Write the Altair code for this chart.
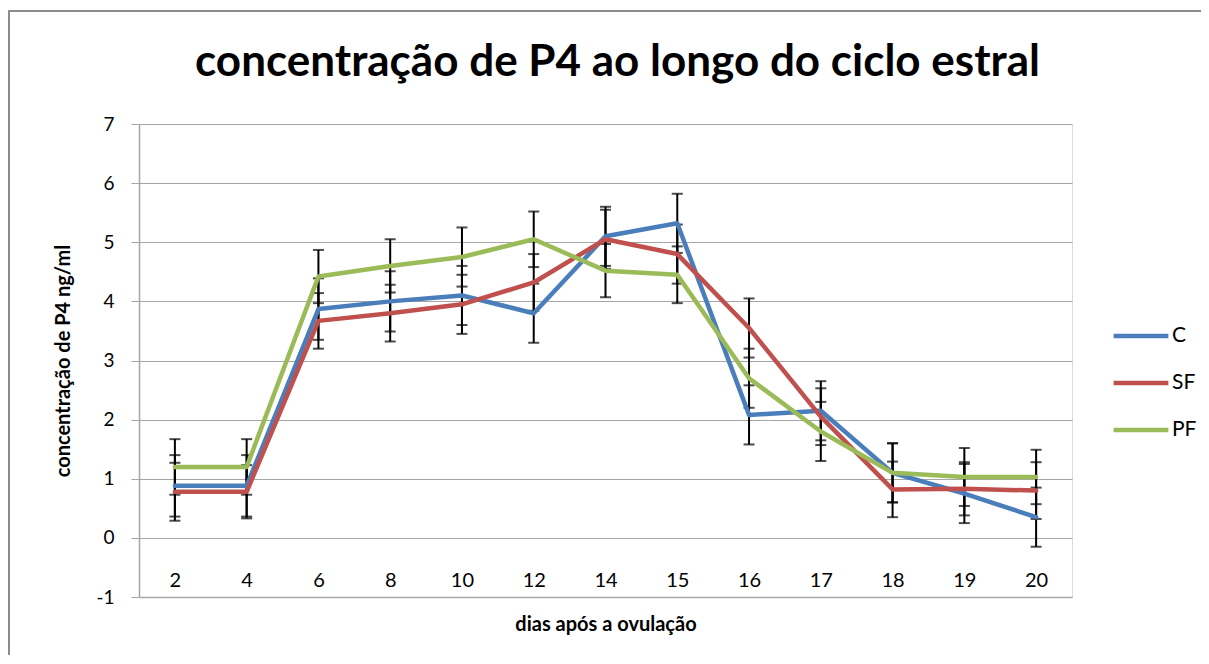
import altair as alt
import pandas as pd

days = ["2", "4", "6", "8", "10", "12", "14", "15", "16", "17", "18", "19", "20"]
series_names = ["C", "SF", "PF"]
colors = ["#4A7EBB", "#C0504D", "#9BBB59"]

C_vals = [0.88, 0.88, 3.87, 4.00, 4.10, 3.80, 5.10, 5.32, 2.08, 2.15, 1.10, 0.75, 0.35]
C_err = [0.52, 0.52, 0.52, 0.51, 0.50, 0.50, 0.50, 0.50, 0.50, 0.50, 0.50, 0.50, 0.50]
SF_vals = [0.78, 0.78, 3.67, 3.80, 3.95, 4.32, 5.05, 4.80, 3.55, 2.05, 0.82, 0.83, 0.80]
SF_err = [0.49, 0.45, 0.47, 0.48, 0.50, 0.48, 0.50, 0.50, 0.50, 0.48, 0.47, 0.45, 0.48]
PF_vals = [1.20, 1.20, 4.42, 4.60, 4.75, 5.05, 4.52, 4.45, 2.70, 1.80, 1.10, 1.03, 1.03]
PF_err = [0.47, 0.47, 0.45, 0.45, 0.50, 0.47, 0.45, 0.48, 0.50, 0.50, 0.50, 0.49, 0.46]

y_ticks = [-1, 0, 1, 2, 3, 4, 5, 6, 7]

rows = []
for name, vals, errs in [("C", C_vals, C_err), ("SF", SF_vals, SF_err), ("PF", PF_vals, PF_err)]:
    for i, (d, v, e) in enumerate(zip(days, vals, errs)):
        rows.append({"day": d, "series": name, "value": v, "lo": v - e, "hi": v + e,
                     "order": series_names.index(name)})
df = pd.DataFrame(rows)

FONT = "Lato"

x_enc = alt.X("day:N", sort=days,
              scale=alt.Scale(type="point", padding=0.5),
              axis=alt.Axis(title="dias após a ovulação", labelAngle=0, ticks=False,
                            domainColor="#a6a6a6", domainWidth=1.5,
                            labelFontSize=20, labelFont=FONT, labelColor="#000000",
                            labelPadding=-27, labelBaseline="top",
                            titleFontSize=20, titleFont=FONT, titleFontWeight="bold",
                            titleColor="#000000", titleY=33, titleBaseline="alphabetic",
                            grid=False))
y_scale = alt.Scale(domain=[-1, 7], nice=False, zero=False)
y_axis = alt.Axis(title="concentração de P4 ng/ml", values=y_ticks,
                  labelExpr="datum.value < 0 ? '-' + abs(datum.value) : '' + datum.value",
                  tickSize=8, tickColor="#a6a6a6", domainColor="#a6a6a6", domainWidth=1.5,
                  gridColor="#a6a6a6", gridWidth=1.2,
                  labelFontSize=19, labelFont=FONT, labelColor="#000000", labelPadding=17,
                  titleFontSize=20, titleFont=FONT, titleFontWeight="bold",
                  titleColor="#000000", titlePadding=22)

base = alt.Chart(df)

err_rule = base.mark_rule(color="#000000", strokeWidth=2).encode(
    x=x_enc,
    y=alt.Y("lo:Q", scale=y_scale, axis=y_axis),
    y2="hi:Q",
)
cap_lo = base.mark_tick(color="#000000", size=11, thickness=2).encode(
    x=x_enc, y=alt.Y("lo:Q", scale=y_scale))
cap_hi = base.mark_tick(color="#000000", size=11, thickness=2).encode(
    x=x_enc, y=alt.Y("hi:Q", scale=y_scale))

lines = base.mark_line(strokeWidth=4.5, strokeCap="round", strokeJoin="round").encode(
    x=x_enc,
    y=alt.Y("value:Q", scale=y_scale, axis=y_axis),
    color=alt.Color("series:N",
                    scale=alt.Scale(domain=series_names, range=colors),
                    legend=alt.Legend(title=None, orient="none", legendX=972, legendY=182,
                                      symbolType="stroke", symbolStrokeWidth=4.5,
                                      symbolSize=3000, labelFontSize=21, labelFont=FONT,
                                      labelColor="#000000", rowPadding=7, labelOffset=1)),
    detail="series:N",
    order="order:Q",
)

border = alt.Chart(pd.DataFrame({"k": [0]})).mark_rect(
    fillOpacity=0, stroke="#8c8c8c", strokeWidth=2
).encode(x=alt.value(-130), x2=alt.value(1075), y=alt.value(-113), y2=alt.value(600))

chart = alt.layer(border, err_rule, cap_lo, cap_hi, lines).properties(
    width=933, height=473,
    autosize=alt.AutoSizeParams(type="none"),
    padding={"left": 131, "top": 116, "right": 129, "bottom": 58},
    title=alt.Title("concentração de P4 ao longo do ciclo estral", fontSize=44, font=FONT,
                    fontWeight="bold", color="#000000", anchor="middle", offset=-110,
                    baseline="alphabetic", dx=12),
).configure_view(strokeWidth=0).configure(background="#ffffff")

chart.save("out.html", embed_options={"renderer": "svg", "actions": False})
